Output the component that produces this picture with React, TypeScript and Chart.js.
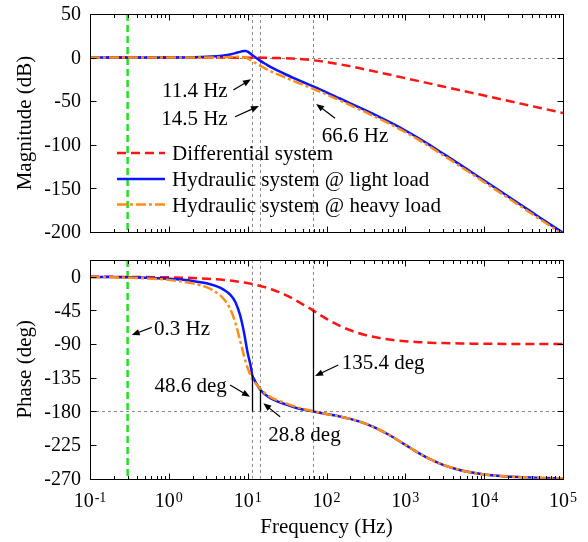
import React, { useEffect, useRef } from "react";
import { Chart, registerables } from "chart.js";
Chart.register(...registerables);

const FONT = '"Liberation Serif", "Times New Roman", serif';

const FREQ = [0.1, 0.2, 0.3, 0.5, 0.7, 1, 1.5, 2, 3, 4, 5, 6, 7, 8, 9, 9.5, 10, 11, 11.4, 12, 13, 14.5, 16, 18, 20, 25, 30, 40, 50, 66.6, 100, 150, 200, 300, 500, 700, 1000, 1500, 2000, 3000, 5000, 7000, 10000, 20000, 30000, 50000, 100000];

const MAG_DIFF = [0, 0, 0, 0, 0, 0, -0.01, -0.01, -0.01, -0.02, -0.02, -0.04, -0.05, -0.06, -0.08, -0.09, -0.1, -0.12, -0.13, -0.14, -0.16, -0.2, -0.25, -0.31, -0.38, -0.58, -0.8, -1.3, -1.94, -3.01, -5.12, -7.83, -10.0, -13.28, -17.59, -20.47, -23.55, -27.06, -29.56, -33.07, -37.51, -40.43, -43.53, -49.55, -53.07, -57.51, -63.53];
const MAG_LIGHT = [0, 0, 0, 0, 0.05, 0.1, 0.2, 0.4, 0.85, 1.5, 2.45, 3.65, 5.1, 6.6, 7.5, 7.7, 6.8, 4.2, 3.0, 1.5, -0.8, -3.8, -6.2, -8.9, -11.2, -15.6, -19.1, -24.2, -28.0, -32.8, -39.8, -47.2, -52.4, -59.7, -69.3, -76.0, -83.6, -92.8, -99.8, -110.0, -123.0, -131.8, -141.0, -159.0, -169.6, -183.0, -201.0];
const MAG_HEAVY = [0, 0, 0, 0, 0, 0, 0.02, 0.05, 0.1, 0.2, 0.35, 0.55, 0.8, 0.95, 0.5, 0, -1.0, -3.2, -4.1, -5.3, -7.0, -9.5, -11.6, -14.0, -16.0, -19.9, -22.9, -27.5, -31.0, -35.5, -42.2, -49.4, -54.5, -61.8, -71.3, -78.0, -85.5, -94.6, -101.6, -111.8, -124.8, -133.5, -142.8, -160.8, -171.4, -184.8, -202.8];

const PHASE_DIFF = [-0.09, -0.17, -0.26, -0.43, -0.6, -0.86, -1.29, -1.72, -2.58, -3.44, -4.29, -5.15, -6.0, -6.85, -7.7, -8.1, -8.54, -9.38, -9.71, -10.2, -11.04, -12.28, -13.5, -15.1, -16.7, -20.6, -24.25, -31.0, -36.9, -44.6, -56.3, -66.1, -71.6, -77.5, -82.4, -84.6, -86.2, -87.5, -88.1, -88.7, -89.2, -89.45, -89.6, -89.8, -89.87, -89.92, -89.96];
const PHASE_LIGHT = [-0.3, -0.5, -0.8, -1.4, -1.9, -2.7, -4.1, -5.6, -8.8, -12.6, -17.5, -24, -34, -51, -75, -89, -102, -121, -131.4, -136.5, -143.5, -151.2, -156, -160, -163, -167.5, -170.5, -175, -177.5, -180, -183.5, -187, -190, -195.8, -206, -214.6, -224.8, -236.2, -243.3, -251.5, -258.6, -261.8, -264.3, -267.1, -268.1, -268.9, -269.4];
const PHASE_HEAVY = [-0.4, -0.8, -1.3, -2.1, -2.9, -4.2, -6.5, -8.9, -14, -21, -30, -43, -62, -85, -106, -115, -122, -133, -136.5, -139.5, -144, -150, -154.5, -158.5, -161.5, -166, -169, -173.5, -176.5, -179.5, -183.5, -187, -190, -195.8, -206, -214.6, -224.8, -236.2, -243.3, -251.5, -258.6, -261.8, -264.3, -267.1, -268.1, -268.9, -269.4];

const MAG_TICKS = [-200, -150, -100, -50, 0, 50];
const PHASE_TICKS = [-270, -225, -180, -135, -90, -45, 0];
const X_DECADES = [0.1, 1, 10, 100, 1000, 10000, 100000];
const X_EXPONENTS = ["-1", "0", "1", "2", "3", "4", "5"];
const MARKER_FREQS = [11.4, 14.5, 66.6];
const GREEN_FREQ = 0.3;
const LEGEND_LABELS = ["Differential system", "Hydraulic system @ light load", "Hydraulic system @ heavy load"];
const MARGIN_LINES = [
  { f: 11.4, from: -180, to: -131.4 },
  { f: 14.5, from: -180, to: -151.2 },
  { f: 66.6, from: -180, to: -44.6 },
];

type Note = { text: string; x: number; y: number; align: CanvasTextAlign; tail: [number, number]; tip: [number, number] };
const MAG_NOTES: Note[] = [
  { text: "11.4 Hz", x: 5.58, y: -45.2, align: "right", tail: [6.58, -37.2], tip: [11.0, -24.9] },
  { text: "14.5 Hz", x: 5.58, y: -77.3, align: "right", tail: [6.92, -67.8], tip: [13.9, -55.5] },
  { text: "66.6 Hz", x: 87.2, y: -96.8, align: "left", tail: [128.5, -69.6], tip: [73.8, -53.2] },
];
const PHASE_NOTES: Note[] = [
  { text: "0.3 Hz", x: 0.648, y: -78, align: "left", tail: [0.607, -67.7], tip: [0.338, -78] },
  { text: "48.6 deg", x: 5.43, y: -154.1, align: "right", tail: [5.98, -144.8], tip: [10.7, -160.4] },
  { text: "28.8 deg", x: 18.3, y: -219.6, align: "left", tail: [25.8, -187.2], tip: [15.8, -169.3] },
  { text: "135.4 deg", x: 156, y: -123.4, align: "left", tail: [141, -118], tip: [71.6, -132.8] },
];

const STYLES = [
  { color: "#ff1414", dash: [9, 5] },
  { color: "#0a14ff", dash: [] as number[] },
  { color: "#ff8c14", dash: [10, 3, 3, 3] },
];

function series(values: number[], i: number, label: string) {
  return {
    label,
    data: FREQ.map((f, k) => ({ x: f, y: values[k] })),
    borderColor: STYLES[i].color,
    borderDash: STYLES[i].dash,
    borderWidth: 2.5,
    pointRadius: 0,
    fill: false,
    cubicInterpolationMode: "monotone",
    order: 3 - i,
  };
}

function drawArrow(ctx: CanvasRenderingContext2D, x1: number, y1: number, x2: number, y2: number) {
  const ang = Math.atan2(y2 - y1, x2 - x1);
  const L = 8, W = 3.2;
  ctx.beginPath();
  ctx.moveTo(x1, y1);
  ctx.lineTo(x2 - L * 0.8 * Math.cos(ang), y2 - L * 0.8 * Math.sin(ang));
  ctx.stroke();
  ctx.beginPath();
  ctx.moveTo(x2, y2);
  ctx.lineTo(x2 - L * Math.cos(ang) + W * Math.sin(ang), y2 - L * Math.sin(ang) - W * Math.cos(ang));
  ctx.lineTo(x2 - L * Math.cos(ang) - W * Math.sin(ang), y2 - L * Math.sin(ang) + W * Math.cos(ang));
  ctx.closePath();
  ctx.fill();
}

function makePlugin(kind: "mag" | "phase") {
  return {
    id: "decor_" + kind,
    beforeDatasetsDraw(chart: any) {
      const ctx: CanvasRenderingContext2D = chart.ctx;
      const { left, right, top, bottom } = chart.chartArea;
      const xs = chart.scales.x, ys = chart.scales.y;
      ctx.save();
      ctx.strokeStyle = "#8a8a8a";
      ctx.lineWidth = 1;
      ctx.setLineDash([3, 3]);
      ctx.beginPath();
      for (const f of MARKER_FREQS) {
        const px = Math.round(xs.getPixelForValue(f)) + 0.5;
        ctx.moveTo(px, top);
        ctx.lineTo(px, bottom);
      }
      const hy = Math.round(ys.getPixelForValue(kind === "mag" ? 0 : -180)) + 0.5;
      ctx.moveTo(left, hy);
      ctx.lineTo(right, hy);
      ctx.stroke();
      ctx.strokeStyle = "#1ee41e";
      ctx.lineWidth = 2.5;
      ctx.setLineDash([7, 4]);
      ctx.beginPath();
      const gx = xs.getPixelForValue(GREEN_FREQ);
      ctx.moveTo(gx, top);
      ctx.lineTo(gx, bottom);
      ctx.stroke();
      ctx.restore();
    },
    afterDatasetsDraw(chart: any) {
      const ctx: CanvasRenderingContext2D = chart.ctx;
      const { left, right, top, bottom } = chart.chartArea;
      const xs = chart.scales.x, ys = chart.scales.y;
      ctx.save();
      ctx.setLineDash([]);
      ctx.strokeStyle = "#000";
      ctx.fillStyle = "#000";
      ctx.lineWidth = 1;
      const L = Math.round(left) + 0.5, R = Math.round(right) + 0.5, T = Math.round(top) + 0.5, B = Math.round(bottom) + 0.5;
      ctx.strokeRect(L, T, R - L, B - T);
      ctx.beginPath();
      for (let i = 0; i < X_DECADES.length; i++) {
        const d = X_DECADES[i];
        const px = Math.round(xs.getPixelForValue(d)) + 0.5;
        ctx.moveTo(px, B); ctx.lineTo(px, B - 6);
        ctx.moveTo(px, T); ctx.lineTo(px, T + 6);
        if (i < X_DECADES.length - 1) {
          for (let m = 2; m <= 9; m++) {
            const mx = Math.round(xs.getPixelForValue(m * d)) + 0.5;
            ctx.moveTo(mx, B); ctx.lineTo(mx, B - 3.5);
            ctx.moveTo(mx, T); ctx.lineTo(mx, T + 3.5);
          }
        }
      }
      const yt = kind === "mag" ? MAG_TICKS : PHASE_TICKS;
      for (const v of yt) {
        const py = Math.round(ys.getPixelForValue(v)) + 0.5;
        ctx.moveTo(L, py); ctx.lineTo(L + 6, py);
        ctx.moveTo(R, py); ctx.lineTo(R - 6, py);
      }
      ctx.stroke();

      // y tick labels
      ctx.font = `20px ${FONT}`;
      ctx.textAlign = "right";
      ctx.textBaseline = "middle";
      for (const v of yt) {
        ctx.fillText(String(v), left - 9, ys.getPixelForValue(v) + 1);
      }

      // margin lines
      if (kind === "phase") {
        ctx.lineWidth = 1.3;
        ctx.beginPath();
        for (const m of MARGIN_LINES) {
          const px = Math.round(xs.getPixelForValue(m.f)) + 0.5;
          ctx.moveTo(px, ys.getPixelForValue(m.from));
          ctx.lineTo(px, ys.getPixelForValue(m.to));
        }
        ctx.stroke();
      }

      // annotations
      const notes = kind === "mag" ? MAG_NOTES : PHASE_NOTES;
      ctx.font = `21px ${FONT}`;
      ctx.textBaseline = "alphabetic";
      ctx.lineWidth = 1.2;
      for (const n of notes) {
        ctx.textAlign = n.align;
        ctx.fillText(n.text, xs.getPixelForValue(n.x), ys.getPixelForValue(n.y));
        drawArrow(ctx, xs.getPixelForValue(n.tail[0]), ys.getPixelForValue(n.tail[1]), xs.getPixelForValue(n.tip[0]), ys.getPixelForValue(n.tip[1]));
      }

      // y title
      ctx.save();
      ctx.translate(31, (top + bottom) / 2);
      ctx.rotate(-Math.PI / 2);
      ctx.textAlign = "center";
      ctx.fillText(kind === "mag" ? "Magnitude (dB)" : "Phase (deg)", 0, 0);
      ctx.restore();

      if (kind === "mag") {
        // legend
        const rows = [139, 165, 190.5];
        for (let i = 0; i < 3; i++) {
          const y = top + rows[i];
          ctx.strokeStyle = STYLES[i].color;
          ctx.lineWidth = 2.5;
          ctx.setLineDash(STYLES[i].dash);
          ctx.beginPath();
          ctx.moveTo(left + 27, y);
          ctx.lineTo(left + 75, y);
          ctx.stroke();
          ctx.setLineDash([]);
          ctx.fillStyle = "#000";
          ctx.textAlign = "left";
          ctx.fillText(LEGEND_LABELS[i], left + 82, y + 7);
        }
      } else {
        // x tick labels with superscripts
        const base = bottom + 28;
        for (let i = 0; i < X_DECADES.length; i++) {
          const px = xs.getPixelForValue(X_DECADES[i]);
          ctx.font = `20px ${FONT}`;
          const w1 = ctx.measureText("10").width;
          ctx.font = `14px ${FONT}`;
          const w2 = ctx.measureText(X_EXPONENTS[i]).width;
          const x0 = px - (w1 + 1 + w2) / 2;
          ctx.textAlign = "left";
          ctx.font = `20px ${FONT}`;
          ctx.fillText("10", x0, base);
          ctx.font = `14px ${FONT}`;
          ctx.fillText(X_EXPONENTS[i], x0 + w1 + 1, base - 4.5);
        }
        ctx.font = `21px ${FONT}`;
        ctx.textAlign = "center";
        ctx.fillText("Frequency (Hz)", (left + right) / 2, bottom + 54.5);
      }
      ctx.restore();
    },
  };
}

function yScale(min: number, max: number, ticks: number[]) {
  return {
    type: "linear",
    min,
    max,
    afterBuildTicks: (ax: any) => {
      ax.ticks = ticks.map((v) => ({ value: v }));
    },
    afterFit: (ax: any) => {
      ax.width = 90;
    },
    grid: { display: false, drawTicks: false },
    border: { display: false },
    ticks: { display: false },
  };
}

function config(kind: "mag" | "phase", padding: any) {
  const mag = kind === "mag";
  return {
    type: "line",
    data: {
      datasets: [
        series(mag ? MAG_DIFF : PHASE_DIFF, 0, LEGEND_LABELS[0]),
        series(mag ? MAG_LIGHT : PHASE_LIGHT, 1, LEGEND_LABELS[1]),
        series(mag ? MAG_HEAVY : PHASE_HEAVY, 2, LEGEND_LABELS[2]),
      ],
    },
    options: {
      responsive: false,
      animation: false,
      devicePixelRatio: 1,
      layout: { padding },
      plugins: { legend: { display: false }, tooltip: { enabled: false } },
      scales: {
        x: { type: "logarithmic", min: 0.1, max: 100000, display: false },
        y: mag ? yScale(-200, 50, MAG_TICKS) : yScale(-270, 22.5, PHASE_TICKS),
      },
    },
    plugins: [makePlugin(kind)],
  };
}

export default function App() {
  const topRef = useRef<HTMLCanvasElement>(null);
  const botRef = useRef<HTMLCanvasElement>(null);
  useEffect(() => {
    const c1 = new Chart(topRef.current as any, config("mag", { left: 0, right: 25, top: 14, bottom: 14 }) as any);
    const c2 = new Chart(botRef.current as any, config("phase", { left: 0, right: 25, top: 13.9, bottom: 63.3 }) as any);
    return () => {
      c1.destroy();
      c2.destroy();
    };
  }, []);
  return (
    <div style={{ position: "absolute", left: 0, top: 0, width: 588, height: 542, background: "#fff" }}>
      <canvas ref={topRef} width={588} height={246} style={{ position: "absolute", left: 0, top: 0, width: 588, height: 246 }} />
      <canvas ref={botRef} width={588} height={296} style={{ position: "absolute", left: 0, top: 246, width: 588, height: 296 }} />
    </div>
  );
}
